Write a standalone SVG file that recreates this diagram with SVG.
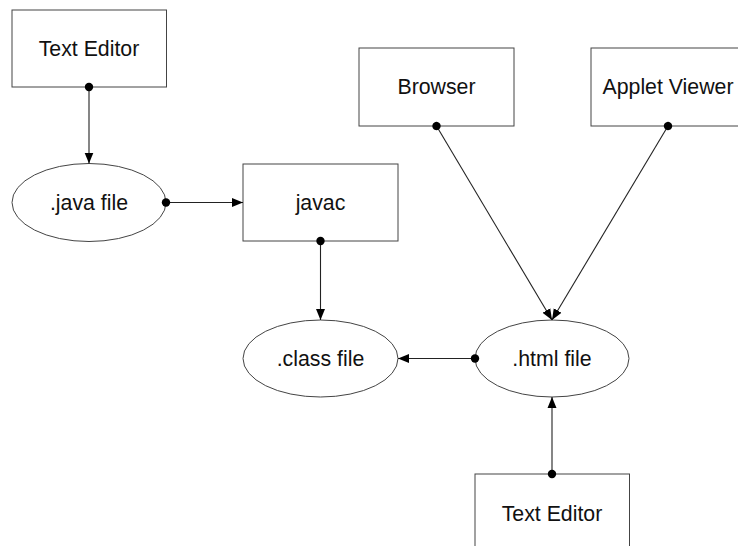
<svg xmlns="http://www.w3.org/2000/svg" width="738" height="546" viewBox="0 0 738 546">
<defs>
<marker id="dot" markerUnits="userSpaceOnUse" markerWidth="10" markerHeight="10" refX="5" refY="5" orient="auto"><circle cx="5" cy="5" r="4.2" fill="#000"/></marker>
<marker id="arr" markerUnits="userSpaceOnUse" markerWidth="12" markerHeight="10" refX="11" refY="5" orient="auto"><path d="M0,0.5 L11,5 L0,9.5 Z" fill="#000"/></marker>
</defs>
<style>
.box{fill:#fff;stroke:#444;stroke-width:1}
.lbl{font-family:"Liberation Sans",Arial,sans-serif;font-size:21.3px;fill:#111;text-anchor:middle}
.c{fill:none;stroke:#222;stroke-width:1.1;marker-start:url(#dot);marker-end:url(#arr)}
</style>
<rect width="738" height="546" fill="#fff"/>
<g id="texteditor1"><rect class="box" x="12" y="10" width="154.5" height="77"/><text class="lbl" x="89" y="56">Text Editor</text></g>
<g id="javafile"><ellipse class="box" cx="89" cy="202.5" rx="77" ry="39"/><text class="lbl" x="89" y="210">.java file</text></g>
<g id="javac"><rect class="box" x="243" y="164" width="155" height="77"/><text class="lbl" x="320.5" y="210">javac</text></g>
<g id="browser"><rect class="box" x="359" y="48" width="155" height="78"/><text class="lbl" x="436.5" y="94">Browser</text></g>
<g id="appletviewer"><rect class="box" x="591" y="48" width="155" height="78"/><text class="lbl" x="668" y="94">Applet Viewer</text></g>
<g id="classfile"><ellipse class="box" cx="320.5" cy="358.5" rx="77.5" ry="38.5"/><text class="lbl" x="320.5" y="366">.class file</text></g>
<g id="htmlfile"><ellipse class="box" cx="552" cy="358.5" rx="77" ry="38.5"/><text class="lbl" x="552" y="366">.html file</text></g>
<g id="texteditor2"><rect class="box" x="475" y="474" width="154.5" height="80"/><text class="lbl" x="552" y="521">Text Editor</text></g>
<g id="connectors">
<line class="c" x1="89" y1="87" x2="89" y2="163.5"/>
<line class="c" x1="166" y1="202.5" x2="243" y2="202.5"/>
<line class="c" x1="320.5" y1="241" x2="320.5" y2="320"/>
<line class="c" x1="475" y1="358.5" x2="398" y2="358.5"/>
<line class="c" x1="436.5" y1="126" x2="552" y2="320"/>
<line class="c" x1="668" y1="126" x2="552" y2="320"/>
<line class="c" x1="552" y1="474" x2="552" y2="397"/>
</g>
</svg>
